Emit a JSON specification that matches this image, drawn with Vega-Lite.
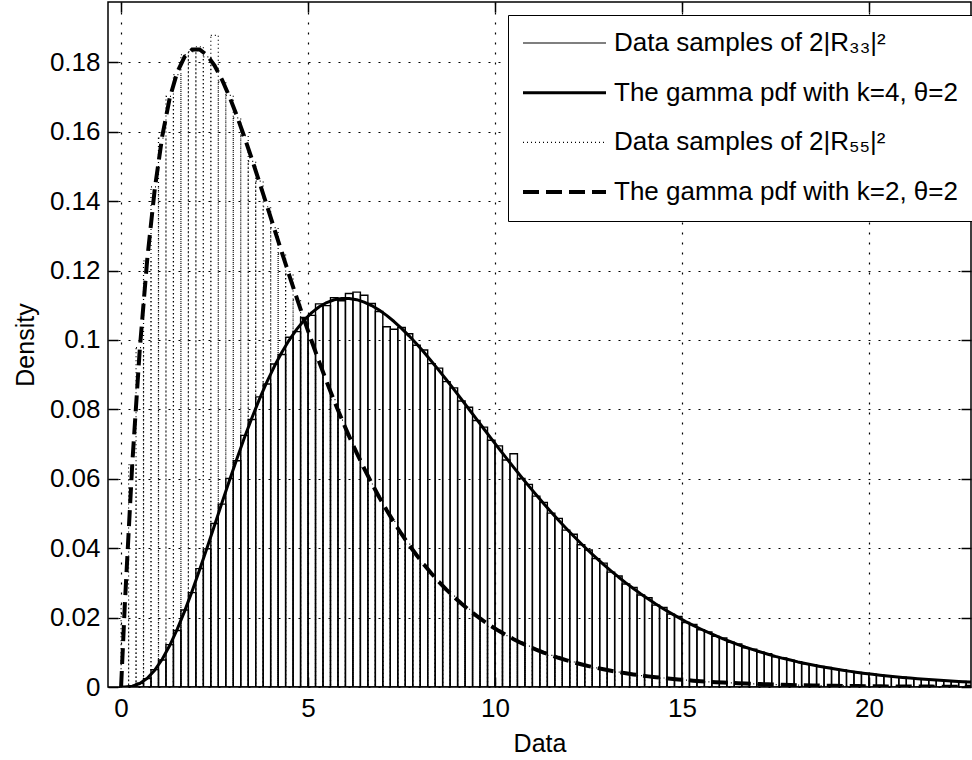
{
"$schema": "https://vega.github.io/schema/vega-lite/v6.json",
"width": 863, "height": 685,
"autosize": {"type": "none"},
"padding": {"left": 108, "top": 2, "right": 1, "bottom": 73},
"background": "white",
"datasets": {
"bins": [
{"x0":0.0,"x1":0.2,"R33":0.00002,"R55":0.0240},
{"x0":0.2,"x1":0.4,"R33":0.0003,"R55":0.0641},
{"x0":0.4,"x1":0.6,"R33":0.0011,"R55":0.0978},
{"x0":0.6,"x1":0.8,"R33":0.0024,"R55":0.1228},
{"x0":0.8,"x1":1.0,"R33":0.0050,"R55":0.1441},
{"x0":1.0,"x1":1.2,"R33":0.0078,"R55":0.1582},
{"x0":1.2,"x1":1.4,"R33":0.0122,"R55":0.1702},
{"x0":1.4,"x1":1.6,"R33":0.0163,"R55":0.1765},
{"x0":1.6,"x1":1.8,"R33":0.0222,"R55":0.1822},
{"x0":1.8,"x1":2.0,"R33":0.0272,"R55":0.1831},
{"x0":2.0,"x1":2.2,"R33":0.0341,"R55":0.1845},
{"x0":2.2,"x1":2.4,"R33":0.0398,"R55":0.1816},
{"x0":2.4,"x1":2.6,"R33":0.0471,"R55":0.1878},
{"x0":2.6,"x1":2.8,"R33":0.0527,"R55":0.1744},
{"x0":2.8,"x1":3.0,"R33":0.0601,"R55":0.1705},
{"x0":3.0,"x1":3.2,"R33":0.0652,"R55":0.1640},
{"x0":3.2,"x1":3.4,"R33":0.0725,"R55":0.1589},
{"x0":3.4,"x1":3.6,"R33":0.0771,"R55":0.1515},
{"x0":3.6,"x1":3.8,"R33":0.0836,"R55":0.1458},
{"x0":3.8,"x1":4.0,"R33":0.0873,"R55":0.1384},
{"x0":4.0,"x1":4.2,"R33":0.0931,"R55":0.1324},
{"x0":4.2,"x1":4.4,"R33":0.0958,"R55":0.1248},
{"x0":4.4,"x1":4.6,"R33":0.1008,"R55":0.1190},
{"x0":4.6,"x1":4.8,"R33":0.1024,"R55":0.1116},
{"x0":4.8,"x1":5.0,"R33":0.1065,"R55":0.1061},
{"x0":5.0,"x1":5.2,"R33":0.1071,"R55":0.0992},
{"x0":5.2,"x1":5.4,"R33":0.1104,"R55":0.0940},
{"x0":5.4,"x1":5.6,"R33":0.1099,"R55":0.0875},
{"x0":5.6,"x1":5.8,"R33":0.1122,"R55":0.0828},
{"x0":5.8,"x1":6.0,"R33":0.1113,"R55":0.0769},
{"x0":6.0,"x1":6.2,"R33":0.1134,"R55":0.0725},
{"x0":6.2,"x1":6.4,"R33":0.1138,"R55":0.0671},
{"x0":6.4,"x1":6.6,"R33":0.1129,"R55":0.0633},
{"x0":6.6,"x1":6.8,"R33":0.1105,"R55":0.0585},
{"x0":6.8,"x1":7.0,"R33":0.1082,"R55":0.0550},
{"x0":7.0,"x1":7.2,"R33":0.1038,"R55":0.0507},
{"x0":7.2,"x1":7.4,"R33":0.1031,"R55":0.0477},
{"x0":7.4,"x1":7.6,"R33":0.1036,"R55":0.0439},
{"x0":7.6,"x1":7.8,"R33":0.1018,"R55":0.0412},
{"x0":7.8,"x1":8.0,"R33":0.0985,"R55":0.0378},
{"x0":8.0,"x1":8.2,"R33":0.0971,"R55":0.0355},
{"x0":8.2,"x1":8.4,"R33":0.0932,"R55":0.0325},
{"x0":8.4,"x1":8.6,"R33":0.0919,"R55":0.0305},
{"x0":8.6,"x1":8.8,"R33":0.0880,"R55":0.0279},
{"x0":8.8,"x1":9.0,"R33":0.0862,"R55":0.0262},
{"x0":9.0,"x1":9.2,"R33":0.0824,"R55":0.0238},
{"x0":9.2,"x1":9.4,"R33":0.0806,"R55":0.0224},
{"x0":9.4,"x1":9.6,"R33":0.0768,"R55":0.0204},
{"x0":9.6,"x1":9.8,"R33":0.0749,"R55":0.0191},
{"x0":9.8,"x1":10.0,"R33":0.0711,"R55":0.0174},
{"x0":10.0,"x1":10.2,"R33":0.0695,"R55":0.0163},
{"x0":10.2,"x1":10.4,"R33":0.0654,"R55":0.0148},
{"x0":10.4,"x1":10.6,"R33":0.0672,"R55":0.0139},
{"x0":10.6,"x1":10.8,"R33":0.0601,"R55":0.0126},
{"x0":10.8,"x1":11.0,"R33":0.0584,"R55":0.0118},
{"x0":11.0,"x1":11.2,"R33":0.0550,"R55":0.0107},
{"x0":11.2,"x1":11.4,"R33":0.0532,"R55":0.0100},
{"x0":11.4,"x1":11.6,"R33":0.0501,"R55":0.0091},
{"x0":11.6,"x1":11.8,"R33":0.0486,"R55":0.0085},
{"x0":11.8,"x1":12.0,"R33":0.0452,"R55":0.0077},
{"x0":12.0,"x1":12.2,"R33":0.0440,"R55":0.0072},
{"x0":12.2,"x1":12.4,"R33":0.0410,"R55":0.0065},
{"x0":12.4,"x1":12.6,"R33":0.0395,"R55":0.0061},
{"x0":12.6,"x1":12.8,"R33":0.0370,"R55":0.0055},
{"x0":12.8,"x1":13.0,"R33":0.0357,"R55":0.0051},
{"x0":13.0,"x1":13.2,"R33":0.0331,"R55":0.0047},
{"x0":13.2,"x1":13.4,"R33":0.0320,"R55":0.0043},
{"x0":13.4,"x1":13.6,"R33":0.0297,"R55":0.0040},
{"x0":13.6,"x1":13.8,"R33":0.0287,"R55":0.0036},
{"x0":13.8,"x1":14.0,"R33":0.0265,"R55":0.0033},
{"x0":14.0,"x1":14.2,"R33":0.0257,"R55":0.0031},
{"x0":14.2,"x1":14.4,"R33":0.0236,"R55":0.0028},
{"x0":14.4,"x1":14.6,"R33":0.0229,"R55":0.0026},
{"x0":14.6,"x1":14.8,"R33":0.0210,"R55":0.0024},
{"x0":14.8,"x1":15.0,"R33":0.0203,"R55":0.0022},
{"x0":15.0,"x1":15.2,"R33":0.0186,"R55":0.0020},
{"x0":15.2,"x1":15.4,"R33":0.0180,"R55":0.0018},
{"x0":15.4,"x1":15.6,"R33":0.0165,"R55":0.0017},
{"x0":15.6,"x1":15.8,"R33":0.0159,"R55":0.0015},
{"x0":15.8,"x1":16.0,"R33":0.0146,"R55":0.0014},
{"x0":16.0,"x1":16.2,"R33":0.0141,"R55":0.0013},
{"x0":16.2,"x1":16.4,"R33":0.0129,"R55":0.0012},
{"x0":16.4,"x1":16.6,"R33":0.0124,"R55":0.0011},
{"x0":16.6,"x1":16.8,"R33":0.0113,"R55":0.0010},
{"x0":16.8,"x1":17.0,"R33":0.0109,"R55":0.0009},
{"x0":17.0,"x1":17.2,"R33":0.0100,"R55":0.0008},
{"x0":17.2,"x1":17.4,"R33":0.0096,"R55":0.00076},
{"x0":17.4,"x1":17.6,"R33":0.0087,"R55":0.0007},
{"x0":17.6,"x1":17.8,"R33":0.0084,"R55":0.00063},
{"x0":17.8,"x1":18.0,"R33":0.0077,"R55":0.00058},
{"x0":18.0,"x1":18.2,"R33":0.0073,"R55":0.00053},
{"x0":18.2,"x1":18.4,"R33":0.0067,"R55":0.00048},
{"x0":18.4,"x1":18.6,"R33":0.0064,"R55":0.00044},
{"x0":18.6,"x1":18.8,"R33":0.0059,"R55":0.00041},
{"x0":18.8,"x1":19.0,"R33":0.0056,"R55":0.00037},
{"x0":19.0,"x1":19.2,"R33":0.0051,"R55":0.00034},
{"x0":19.2,"x1":19.4,"R33":0.0049,"R55":0.00031},
{"x0":19.4,"x1":19.6,"R33":0.0045,"R55":0.00028},
{"x0":19.6,"x1":19.8,"R33":0.0042,"R55":0.00026},
{"x0":19.8,"x1":20.0,"R33":0.0039,"R55":0.00024},
{"x0":20.0,"x1":20.2,"R33":0.0037,"R55":0.00022},
{"x0":20.2,"x1":20.4,"R33":0.0034,"R55":0.0002},
{"x0":20.4,"x1":20.6,"R33":0.0032,"R55":0.00018},
{"x0":20.6,"x1":20.8,"R33":0.0029,"R55":0.00017},
{"x0":20.8,"x1":21.0,"R33":0.0028,"R55":0.00015},
{"x0":21.0,"x1":21.2,"R33":0.0025,"R55":0.00014},
{"x0":21.2,"x1":21.4,"R33":0.0024,"R55":0.00013},
{"x0":21.4,"x1":21.6,"R33":0.0022,"R55":0.00012},
{"x0":21.6,"x1":21.8,"R33":0.0021,"R55":0.0001},
{"x0":21.8,"x1":22.0,"R33":0.0019,"R55":0.0001},
{"x0":22.0,"x1":22.2,"R33":0.0018,"R55":0.00009},
{"x0":22.2,"x1":22.4,"R33":0.0016,"R55":0.00008},
{"x0":22.4,"x1":22.6,"R33":0.0016,"R55":0.00007},
{"x0":22.6,"x1":22.8,"R33":0.0014,"R55":0.00007},
{"x0":22.8,"x1":23.0,"R33":0.0013,"R55":0.00006}
],
"curve": [
{"x":0,"pdf4":0,"pdf2":0},
{"x":0.1,"pdf4":0.00001,"pdf2":0.02378},
{"x":0.3,"pdf4":0.00024,"pdf2":0.06455},
{"x":0.5,"pdf4":0.00101,"pdf2":0.09735},
{"x":0.7,"pdf4":0.00252,"pdf2":0.12332},
{"x":0.9,"pdf4":0.00484,"pdf2":0.14347},
{"x":1.1,"pdf4":0.008,"pdf2":0.15866},
{"x":1.3,"pdf4":0.01195,"pdf2":0.16967},
{"x":1.5,"pdf4":0.01661,"pdf2":0.17714},
{"x":1.7,"pdf4":0.02187,"pdf2":0.18165},
{"x":1.9,"pdf4":0.02763,"pdf2":0.1837},
{"x":2.1,"pdf4":0.03376,"pdf2":0.18372},
{"x":2.3,"pdf4":0.04013,"pdf2":0.18207},
{"x":2.5,"pdf4":0.04663,"pdf2":0.17907},
{"x":2.7,"pdf4":0.05315,"pdf2":0.17499},
{"x":2.9,"pdf4":0.05959,"pdf2":0.17006},
{"x":3.1,"pdf4":0.06587,"pdf2":0.16449},
{"x":3.3,"pdf4":0.07189,"pdf2":0.15844},
{"x":3.5,"pdf4":0.07761,"pdf2":0.15205},
{"x":3.7,"pdf4":0.08297,"pdf2":0.14544},
{"x":3.9,"pdf4":0.08791,"pdf2":0.13872},
{"x":4.1,"pdf4":0.09242,"pdf2":0.13195},
{"x":4.3,"pdf4":0.09647,"pdf2":0.12522},
{"x":4.5,"pdf4":0.10005,"pdf2":0.11857},
{"x":4.7,"pdf4":0.10314,"pdf2":0.11206},
{"x":4.9,"pdf4":0.10576,"pdf2":0.10571},
{"x":5.1,"pdf4":0.10789,"pdf2":0.09956},
{"x":5.3,"pdf4":0.10957,"pdf2":0.09361},
{"x":5.5,"pdf4":0.11079,"pdf2":0.0879},
{"x":5.7,"pdf4":0.11159,"pdf2":0.08243},
{"x":5.9,"pdf4":0.11198,"pdf2":0.0772},
{"x":6.1,"pdf4":0.11198,"pdf2":0.07222},
{"x":6.3,"pdf4":0.11162,"pdf2":0.06749},
{"x":6.5,"pdf4":0.11092,"pdf2":0.06301},
{"x":6.7,"pdf4":0.10992,"pdf2":0.05877},
{"x":6.9,"pdf4":0.10863,"pdf2":0.05476},
{"x":7.1,"pdf4":0.10709,"pdf2":0.05099},
{"x":7.3,"pdf4":0.10532,"pdf2":0.04743},
{"x":7.5,"pdf4":0.10335,"pdf2":0.0441},
{"x":7.7,"pdf4":0.1012,"pdf2":0.04096},
{"x":7.9,"pdf4":0.09889,"pdf2":0.03803},
{"x":8.1,"pdf4":0.09645,"pdf2":0.03528},
{"x":8.3,"pdf4":0.09389,"pdf2":0.03271},
{"x":8.5,"pdf4":0.09125,"pdf2":0.03031},
{"x":8.7,"pdf4":0.08854,"pdf2":0.02807},
{"x":8.9,"pdf4":0.08576,"pdf2":0.02599},
{"x":9.1,"pdf4":0.08295,"pdf2":0.02404},
{"x":9.3,"pdf4":0.08012,"pdf2":0.02223},
{"x":9.5,"pdf4":0.07727,"pdf2":0.02055},
{"x":9.7,"pdf4":0.07442,"pdf2":0.01898},
{"x":9.9,"pdf4":0.07159,"pdf2":0.01753},
{"x":10.1,"pdf4":0.06878,"pdf2":0.01618},
{"x":10.3,"pdf4":0.06601,"pdf2":0.01493},
{"x":10.5,"pdf4":0.06328,"pdf2":0.01378},
{"x":10.7,"pdf4":0.06059,"pdf2":0.0127},
{"x":10.9,"pdf4":0.05795,"pdf2":0.01171},
{"x":11.1,"pdf4":0.05538,"pdf2":0.01079},
{"x":11.3,"pdf4":0.05288,"pdf2":0.00994},
{"x":11.5,"pdf4":0.05043,"pdf2":0.00915},
{"x":11.7,"pdf4":0.04805,"pdf2":0.00842},
{"x":11.9,"pdf4":0.04575,"pdf2":0.00775},
{"x":12.1,"pdf4":0.04351,"pdf2":0.00713},
{"x":12.3,"pdf4":0.04135,"pdf2":0.00656},
{"x":12.5,"pdf4":0.03927,"pdf2":0.00603},
{"x":12.7,"pdf4":0.03728,"pdf2":0.00555},
{"x":12.9,"pdf4":0.03535,"pdf2":0.0051},
{"x":13.1,"pdf4":0.03349,"pdf2":0.00468},
{"x":13.3,"pdf4":0.03171,"pdf2":0.0043},
{"x":13.5,"pdf4":0.03001,"pdf2":0.00395},
{"x":13.7,"pdf4":0.02839,"pdf2":0.00363},
{"x":13.9,"pdf4":0.02683,"pdf2":0.00333},
{"x":14.1,"pdf4":0.02535,"pdf2":0.00306},
{"x":14.3,"pdf4":0.02391,"pdf2":0.00281},
{"x":14.5,"pdf4":0.02255,"pdf2":0.00257},
{"x":14.7,"pdf4":0.02128,"pdf2":0.00236},
{"x":14.9,"pdf4":0.02005,"pdf2":0.00217},
{"x":15.1,"pdf4":0.01886,"pdf2":0.00199},
{"x":15.3,"pdf4":0.01776,"pdf2":0.00182},
{"x":15.5,"pdf4":0.01672,"pdf2":0.00167},
{"x":15.7,"pdf4":0.01572,"pdf2":0.00153},
{"x":15.9,"pdf4":0.01478,"pdf2":0.0014},
{"x":16.1,"pdf4":0.01387,"pdf2":0.00128},
{"x":16.3,"pdf4":0.01304,"pdf2":0.00118},
{"x":16.5,"pdf4":0.01221,"pdf2":0.00108},
{"x":16.7,"pdf4":0.01145,"pdf2":0.00099},
{"x":16.9,"pdf4":0.01076,"pdf2":0.0009},
{"x":17.1,"pdf4":0.0101,"pdf2":0.00083},
{"x":17.3,"pdf4":0.00944,"pdf2":0.00076},
{"x":17.5,"pdf4":0.00882,"pdf2":0.00069},
{"x":17.7,"pdf4":0.00826,"pdf2":0.00063},
{"x":17.9,"pdf4":0.00777,"pdf2":0.00058},
{"x":18.1,"pdf4":0.00723,"pdf2":0.00053},
{"x":18.3,"pdf4":0.00677,"pdf2":0.00049},
{"x":18.5,"pdf4":0.00634,"pdf2":0.00044},
{"x":18.7,"pdf4":0.00593,"pdf2":0.00041},
{"x":18.9,"pdf4":0.00554,"pdf2":0.00037},
{"x":19.1,"pdf4":0.00517,"pdf2":0.00034},
{"x":19.3,"pdf4":0.00482,"pdf2":0.00031},
{"x":19.5,"pdf4":0.0045,"pdf2":0.00028},
{"x":19.7,"pdf4":0.0042,"pdf2":0.00026},
{"x":19.9,"pdf4":0.00392,"pdf2":0.00024},
{"x":20.1,"pdf4":0.00365,"pdf2":0.00022},
{"x":20.3,"pdf4":0.00341,"pdf2":0.0002},
{"x":20.5,"pdf4":0.00317,"pdf2":0.00018},
{"x":20.7,"pdf4":0.00296,"pdf2":0.00017},
{"x":20.9,"pdf4":0.00275,"pdf2":0.00015},
{"x":21.1,"pdf4":0.00256,"pdf2":0.00014},
{"x":21.3,"pdf4":0.00239,"pdf2":0.00013},
{"x":21.5,"pdf4":0.00222,"pdf2":0.00012},
{"x":21.7,"pdf4":0.00207,"pdf2":0.00011},
{"x":21.9,"pdf4":0.00193,"pdf2":0.0001},
{"x":22.1,"pdf4":0.00179,"pdf2":0.00009},
{"x":22.3,"pdf4":0.00166,"pdf2":0.00008},
{"x":22.5,"pdf4":0.00154,"pdf2":0.00007},
{"x":22.7,"pdf4":0.00144,"pdf2":0.00007},
{"x":22.9,"pdf4":0.00133,"pdf2":0.00006},
{"x":23.1,"pdf4":0.00124,"pdf2":0.00006}
]
},
"config": {
  "font": "Liberation Sans",
  "view": {"stroke": "black", "strokeWidth": 1.5},
  "axis": {"domain": false, "labelFont": "Liberation Sans", "labelFontSize": 26, "labelColor": "black", "titleFont": "Liberation Sans", "titleFontSize": 25, "titleFontWeight": "normal", "titleColor": "black", "tickColor": "black", "tickWidth": 1.5, "tickSize": -10, "gridColor": "black", "gridOpacity": 1, "gridDash": [2, 8], "gridWidth": 1.2}
},
"resolve": {"axis": {"x": "independent", "y": "independent"}},
"layer": [
 {
  "data": {"name": "bins"},
  "transform": [{"fold": ["R33", "R55"], "as": ["key", "d"]}, {"filter": "datum.key == 'R33'"}],
  "mark": {"type": "bar", "fill": "transparent", "stroke": "black", "strokeWidth": 1.4, "clip": true},
  "encoding": {
    "x": {"field": "x0", "type": "quantitative", "scale": {"domain": [-0.35, 22.73], "nice": false, "zero": false},
          "axis": {"title": "Data", "values": [0, 5, 10, 15, 20], "grid": true, "labelPadding": 18, "titlePadding": 10}},
    "x2": {"field": "x1"},
    "y": {"field": "d", "type": "quantitative", "stack": null, "scale": {"domain": [0, 0.1974], "nice": false},
          "axis": {"title": "Density", "values": [0, 0.02, 0.04, 0.06, 0.08, 0.1, 0.12, 0.14, 0.16, 0.18], "format": "~g", "grid": true, "labelPadding": 18, "titlePadding": 11}},
    "y2": {"datum": 0},
    "strokeDash": {"field": "key", "type": "nominal",
      "scale": {"domain": ["R33", "pdf4", "R55", "pdf2"], "range": [[1, 0], [1, 0], [1, 3], [16, 7]]},
      "legend": {"title": null, "orient": "none", "legendX": 400, "legendY": 13, "symbolType": "M-8.3,0H8.3", "symbolSize": 100,
        "symbolOffset": 28.5, "symbolStrokeColor": "black",
        "symbolStrokeWidth": {"expr": "datum.value == 'pdf4' ? 3 : datum.value == 'pdf2' ? 4 : 1.2"},
        "labelFont": "Liberation Sans", "labelFontSize": 26, "labelColor": "black", "labelLimit": 600,
        "labelOffset": 36.5, "padding": 15, "strokeColor": "black", "fillColor": "white", "rowPadding": 23.7,
        "labelExpr": "datum.label == 'R33' ? 'Data samples of 2|R₃₃|²' : datum.label == 'pdf4' ? 'The gamma pdf with k=4, θ=2' : datum.label == 'R55' ? 'Data samples of 2|R₅₅|²' : 'The gamma pdf with k=2, θ=2'",
        "encode": {"symbols": {"stroke": {"value": "black"}, "fill": {"value": "transparent"}}}}
    }
  }
 },
 {
  "data": {"name": "bins"},
  "transform": [{"fold": ["R33", "R55"], "as": ["key", "d"]}, {"filter": "datum.key == 'R55'"}],
  "mark": {"type": "bar", "fill": "transparent", "stroke": "black", "strokeWidth": 1.2, "strokeDash": [1, 3], "clip": true},
  "encoding": {
    "x": {"field": "x0", "type": "quantitative", "axis": null},
    "x2": {"field": "x1"},
    "y": {"field": "d", "type": "quantitative", "stack": null, "axis": null},
    "y2": {"datum": 0}
  }
 },
 {
  "data": {"name": "curve"},
  "transform": [{"fold": ["pdf4", "pdf2"], "as": ["key", "d"]}, {"filter": "datum.key == 'pdf4'"}],
  "mark": {"type": "line", "stroke": "black", "strokeWidth": 3, "strokeJoin": "round", "clip": true},
  "encoding": {
    "x": {"field": "x", "type": "quantitative", "axis": {"orient": "top", "labels": false, "grid": false, "title": null, "values": [0, 5, 10, 15, 20]}},
    "y": {"field": "d", "type": "quantitative", "axis": {"orient": "right", "labels": false, "grid": false, "title": null, "values": [0, 0.02, 0.04, 0.06, 0.08, 0.1, 0.12, 0.14, 0.16, 0.18]}}
  }
 },
 {
  "data": {"name": "curve"},
  "transform": [{"fold": ["pdf4", "pdf2"], "as": ["key", "d"]}, {"filter": "datum.key == 'pdf2'"}],
  "mark": {"type": "line", "stroke": "black", "strokeWidth": 4, "strokeCap": "butt", "strokeDash": [16, 7], "clip": true},
  "encoding": {
    "x": {"field": "x", "type": "quantitative", "axis": null},
    "y": {"field": "d", "type": "quantitative", "axis": null}
  }
 }
]
}
